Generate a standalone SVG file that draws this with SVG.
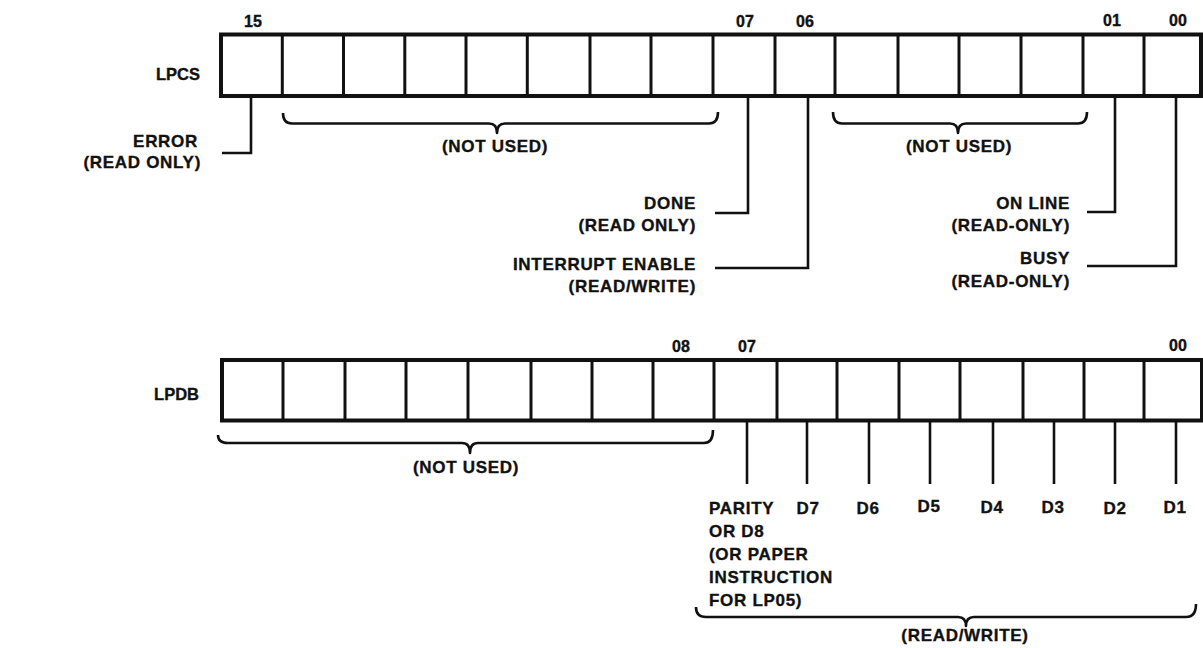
<svg xmlns="http://www.w3.org/2000/svg" width="1203" height="648" viewBox="0 0 1203 648">
<style>
.t{font-family:"Liberation Sans",Arial,sans-serif;font-weight:bold;font-size:17px;letter-spacing:0.7px;fill:#111;stroke:#111;stroke-width:0.35}
.n{font-family:"Liberation Sans",Arial,sans-serif;font-weight:bold;font-size:16px;fill:#111;stroke:#111;stroke-width:0.35;text-anchor:middle}
.r{font-family:"Liberation Sans",Arial,sans-serif;font-weight:bold;font-size:16.5px;fill:#111;stroke:#111;stroke-width:0.35;text-anchor:end}
.e{text-anchor:end}
.m{text-anchor:middle}
.box{fill:none;stroke:#111;stroke-width:4}
.div{stroke:#111;stroke-width:3}
.c{fill:none;stroke:#111;stroke-width:2.6}
.br{fill:none;stroke:#111;stroke-width:2.6;stroke-linejoin:round}
</style>
<rect width="1203" height="648" fill="#fff"/>

<g id="lpcs">
<text class="r" x="200" y="80">LPCS</text>
<rect class="box" x="221" y="34.5" width="980" height="61.5"/>
<g class="div">
<line x1="282.3" y1="34.5" x2="282.3" y2="96"/>
<line x1="343.5" y1="34.5" x2="343.5" y2="96"/>
<line x1="404.8" y1="34.5" x2="404.8" y2="96"/>
<line x1="466" y1="34.5" x2="466" y2="96"/>
<line x1="527.3" y1="34.5" x2="527.3" y2="96"/>
<line x1="590" y1="34.5" x2="590" y2="96"/>
<line x1="651" y1="34.5" x2="651" y2="96"/>
<line x1="713" y1="34.5" x2="713" y2="96"/>
<line x1="775" y1="34.5" x2="775" y2="96"/>
<line x1="835" y1="34.5" x2="835" y2="96"/>
<line x1="898" y1="34.5" x2="898" y2="96"/>
<line x1="959" y1="34.5" x2="959" y2="96"/>
<line x1="1021" y1="34.5" x2="1021" y2="96"/>
<line x1="1083" y1="34.5" x2="1083" y2="96"/>
<line x1="1144" y1="34.5" x2="1144" y2="96"/>
</g>
<text class="n" x="253" y="27">15</text>
<text class="n" x="745" y="27">07</text>
<text class="n" x="805" y="27">06</text>
<text class="n" x="1112" y="26">01</text>
<text class="n" x="1178" y="26">00</text>
</g>

<g id="lpdb">
<text class="r" x="199" y="400">LPDB</text>
<rect class="box" x="222" y="360" width="980" height="60.5"/>
<g class="div">
<line x1="283" y1="360" x2="283" y2="420.5"/>
<line x1="345" y1="360" x2="345" y2="420.5"/>
<line x1="406" y1="360" x2="406" y2="420.5"/>
<line x1="468" y1="360" x2="468" y2="420.5"/>
<line x1="531" y1="360" x2="531" y2="420.5"/>
<line x1="592" y1="360" x2="592" y2="420.5"/>
<line x1="653" y1="360" x2="653" y2="420.5"/>
<line x1="714" y1="360" x2="714" y2="420.5"/>
<line x1="777" y1="360" x2="777" y2="420.5"/>
<line x1="837" y1="360" x2="837" y2="420.5"/>
<line x1="899" y1="360" x2="899" y2="420.5"/>
<line x1="960" y1="360" x2="960" y2="420.5"/>
<line x1="1023" y1="360" x2="1023" y2="420.5"/>
<line x1="1084" y1="360" x2="1084" y2="420.5"/>
<line x1="1144" y1="360" x2="1144" y2="420.5"/>
</g>
<text class="n" x="681" y="352">08</text>
<text class="n" x="747" y="352">07</text>
<text class="n" x="1178" y="351">00</text>
</g>

<g id="connectors">
<polyline class="c" points="251,96 251,153 222,153"/>
<polyline class="c" points="748,96 748,213 715,213"/>
<polyline class="c" points="808,96 808,268 715,268"/>
<polyline class="c" points="1115,96 1115,212 1087,212"/>
<polyline class="c" points="1176,96 1176,266 1087,266"/>
<g class="c">
<line x1="747" y1="420" x2="747" y2="484"/>
<line x1="807" y1="420" x2="807" y2="484"/>
<line x1="869" y1="420" x2="869" y2="484"/>
<line x1="930" y1="420" x2="930" y2="484"/>
<line x1="993" y1="420" x2="993" y2="484"/>
<line x1="1054" y1="420" x2="1054" y2="484"/>
<line x1="1115" y1="420" x2="1115" y2="484"/>
<line x1="1176" y1="420" x2="1176" y2="484"/>
</g>
</g>

<g id="braces">
<path class="br" d="M283,113 Q283,123.5 292,123.5 L489,123.5 Q497,123.5 497,133 Q497,123.5 505,123.5 L709,123.5 Q718,123.5 718,112"/>
<path class="br" d="M833,112 Q833,123.5 842,123.5 L950,123.5 Q958,123.5 958,133 Q958,123.5 966,123.5 L1078,123.5 Q1087,123.5 1087,112"/>
<path class="br" d="M218,435 Q218,443 228,443 L462,443 Q470,443 470,453 Q470,443 478,443 L704,443 Q713,443 713,430"/>
<path class="br" d="M696,607 Q696,617 706,617 L958,617 Q966,617 966,626 Q966,617 974,617 L1186,617 Q1196,617 1196,604"/>
</g>

<g id="field-error">
<text class="t e" x="198" y="147">ERROR</text>
<text class="t e" x="201" y="168">(READ ONLY)</text>
</g>
<g id="field-notused-1"><text class="t m" x="495" y="152">(NOT USED)</text></g>
<g id="field-notused-2"><text class="t m" x="959" y="152">(NOT USED)</text></g>
<g id="field-done">
<text class="t e" x="696" y="209">DONE</text>
<text class="t e" x="696" y="231">(READ ONLY)</text>
</g>
<g id="field-ie">
<text class="t e" x="696" y="270">INTERRUPT ENABLE</text>
<text class="t e" x="696" y="292">(READ/WRITE)</text>
</g>
<g id="field-online">
<text class="t e" x="1070" y="209">ON LINE</text>
<text class="t e" x="1070" y="231">(READ-ONLY)</text>
</g>
<g id="field-busy">
<text class="t e" x="1070" y="264">BUSY</text>
<text class="t e" x="1070" y="287">(READ-ONLY)</text>
</g>
<g id="field-notused-3"><text class="t m" x="466" y="473">(NOT USED)</text></g>
<g id="field-parity">
<text class="t" x="709" y="514">PARITY</text>
<text class="t" x="709" y="537">OR D8</text>
<text class="t" x="709" y="560">(OR PAPER</text>
<text class="t" x="709" y="583">INSTRUCTION</text>
<text class="t" x="709" y="606">FOR LP05)</text>
</g>
<g id="field-data">
<text class="t m" x="808" y="514">D7</text>
<text class="t m" x="868" y="514">D6</text>
<text class="t m" x="929" y="512">D5</text>
<text class="t m" x="992" y="513">D4</text>
<text class="t m" x="1053" y="513">D3</text>
<text class="t m" x="1115" y="514">D2</text>
<text class="t m" x="1175" y="513">D1</text>
</g>
<g id="field-rw"><text class="t m" x="965" y="641">(READ/WRITE)</text></g>
</svg>
